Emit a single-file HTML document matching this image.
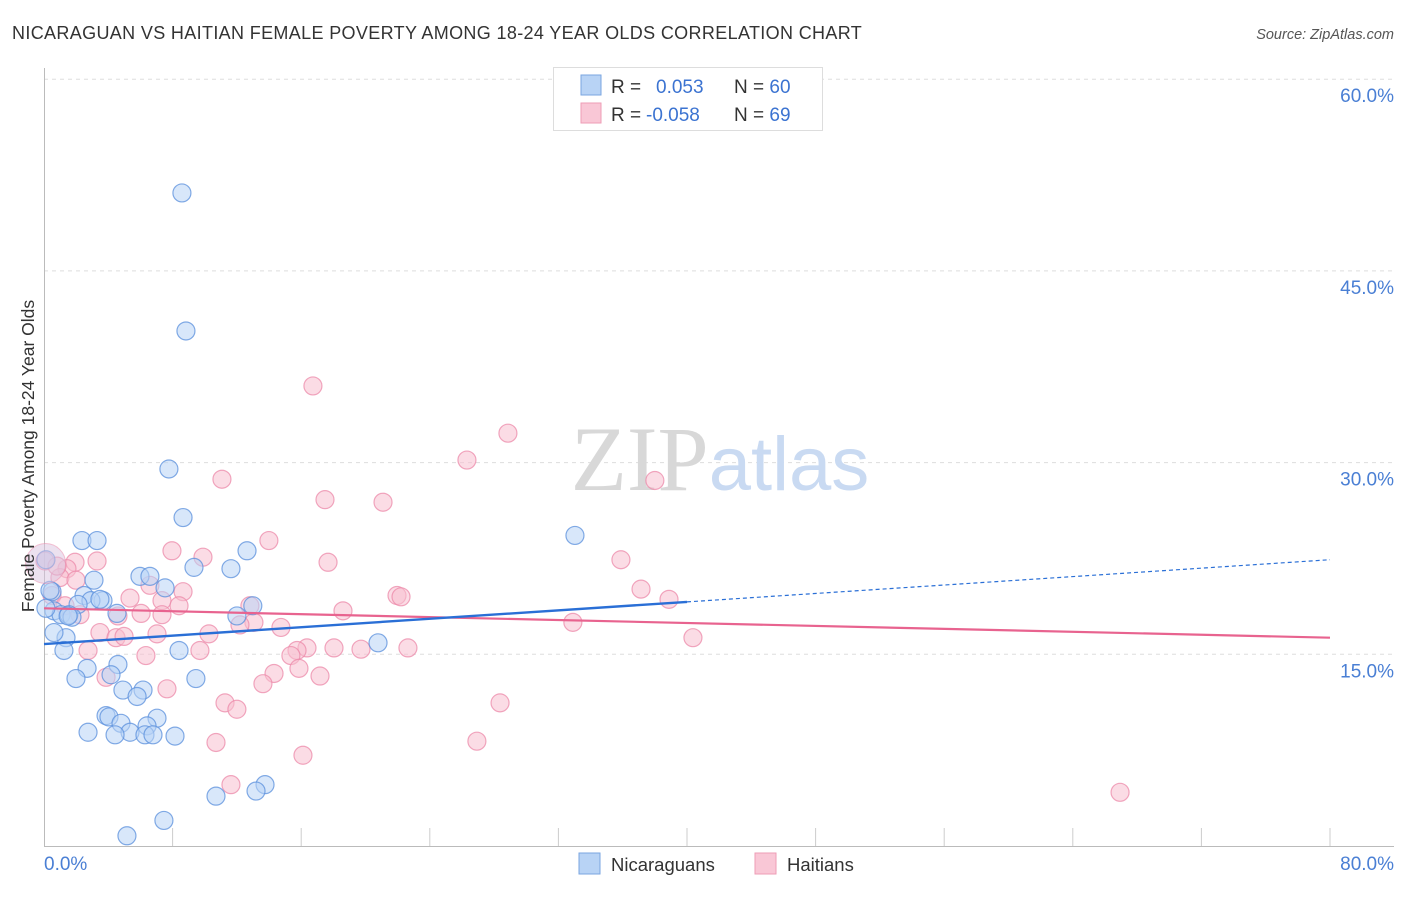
<!DOCTYPE html>
<html><head><meta charset="utf-8"><style>
body{margin:0;background:#fff;font-family:"Liberation Sans",sans-serif}
svg text{font-family:"Liberation Sans",sans-serif}
</style></head><body>
<svg id="c" width="1406" height="892" xmlns="http://www.w3.org/2000/svg">
<text x="12" y="39" font-size="18" letter-spacing="0.35" fill="#333">NICARAGUAN VS HAITIAN FEMALE POVERTY AMONG 18-24 YEAR OLDS CORRELATION CHART</text>
<text x="1394" y="39" font-size="14.5" fill="#555" font-style="italic" text-anchor="end">Source: ZipAtlas.com</text>
<g id="grid"></g>
<text x="720" y="490" font-size="92" text-anchor="middle"><tspan fill="#d8d8d8" font-family="Liberation Serif">ZIP</tspan><tspan fill="#c9daf2" font-size="76">atlas</tspan></text>
<g id="pts"></g>
<g id="lines"></g>
<text transform="translate(34,456) rotate(-90)" font-size="17.5" fill="#333" text-anchor="middle">Female Poverty Among 18-24 Year Olds</text>
<text x="44" y="870" font-size="19" fill="#4a7fd4">0.0%</text>
<text x="1394" y="870" font-size="19" fill="#4a7fd4" text-anchor="end">80.0%</text>
<g>
<rect x="553.5" y="67.5" width="269" height="63" fill="#fff" stroke="#ddd"/>
<rect x="581" y="75" width="20" height="20" fill="#b8d3f5" stroke="#7aa6e0"/>
<rect x="581" y="103" width="20" height="20" fill="#f9c7d6" stroke="#ee9cb6"/>
<text x="611" y="93" font-size="19" fill="#333">R = <tspan fill="#3b73d1" x="656">0.053</tspan><tspan fill="#333" x="734">N = </tspan><tspan fill="#3b73d1">60</tspan></text>
<text x="611" y="121" font-size="19" fill="#333">R = <tspan fill="#3b73d1" x="646">-0.058</tspan><tspan fill="#333" x="734">N = </tspan><tspan fill="#3b73d1">69</tspan></text>
</g>
<g>
<rect x="579" y="853" width="21" height="21" fill="#b8d3f5" stroke="#7aa6e0"/>
<text x="611" y="871" font-size="18.5" fill="#333">Nicaraguans</text>
<rect x="755" y="853" width="21" height="21" fill="#f9c7d6" stroke="#ee9cb6"/>
<text x="787" y="871" font-size="18.5" fill="#333">Haitians</text>
</g>
</svg>
<script>
const yTicks=[15,30,45,60];
const yTickLabels=["15.0%","30.0%","45.0%","60.0%"];
const xTicks=[0,8,16,24,32,40,48,56,64,72,80];
const blueX=[8.58,8.83,7.77,8.65,33.03,2.36,3.3,12.63,11.63,9.33,5.97,6.59,3.11,7.53,0.5,2.49,3.67,2.92,2.12,12.99,12,0.62,1.06,1.55,1.74,4.54,0.12,1.37,0.62,8.4,20.78,1.24,2.68,4.6,4.17,1.99,9.45,4.91,6.16,5.79,3.86,4.04,7.03,4.79,6.41,2.74,5.35,4.42,6.28,6.78,8.15,13.75,13.19,10.7,7.46,5.16,0.12,0.37,3.48,1.5];
const blueY=[51.1,40.3,29.5,25.7,24.3,23.9,23.9,23.1,21.7,21.8,21.1,21.1,20.8,20.2,19.9,19.6,19.2,19.2,18.9,18.8,18,18.4,18.1,18.1,17.9,18.2,18.6,16.3,16.7,15.3,15.9,15.3,13.9,14.2,13.4,13.1,13.1,12.2,12.2,11.7,10.2,10.1,10,9.6,9.4,8.9,8.9,8.7,8.7,8.7,8.6,4.8,4.3,3.9,2,0.8,22.4,20.0,19.3,18];
const pinkX=[16.73,28.86,26.31,38,11.07,17.48,21.09,13.99,7.96,9.89,3.3,1.93,35.89,17.67,0.06,1.43,0.99,37.14,38.88,21.96,22.21,6.59,8.65,5.35,7.34,12.81,2.24,6.04,7.34,8.4,18.6,4.6,13.06,32.9,3.48,4.48,4.98,7.03,10.26,14.74,12.19,40.37,22.64,18.04,19.72,16.36,15.74,15.36,9.7,6.34,2.74,15.86,3.86,14.31,17.17,13.62,7.65,11.26,12,28.37,10.7,26.93,16.11,11.63,66.94,0.5,0.81,1.31,1.99];
const pinkY=[36.0,32.3,30.2,28.6,28.7,27.1,26.9,23.9,23.1,22.6,22.3,22.2,22.4,22.2,22.3,21.7,21,20.1,19.3,19.6,19.5,20.4,19.9,19.4,19.2,18.8,18.1,18.2,18.1,18.8,18.4,18,17.5,17.5,16.7,16.3,16.4,16.6,16.6,17.1,17.3,16.3,15.5,15.5,15.4,15.5,15.3,14.9,15.3,14.9,15.3,13.9,13.2,13.5,13.3,12.7,12.3,11.2,10.7,11.2,8.1,8.2,7.1,4.8,4.2,19.6,21.9,18.8,20.8];
const blueTrend=[[0,15.8],[40,19.1]];
const blueTrendExt=[[40,19.1],[80,22.4]];
const pinkTrend=[[0,18.6],[80,16.3]];
const X=v=>44+v*16.075, Y=v=>846-v*12.78;
const NS="http://www.w3.org/2000/svg";
function mk(t,a,p){const e=document.createElementNS(NS,t);for(const k in a)e.setAttribute(k,a[k]);p.appendChild(e);return e;}
const g=document.getElementById('grid');
yTicks.forEach((t,i)=>{
 const l=mk('line',{x1:44,x2:1394,y1:Y(t),y2:Y(t),stroke:'#ddd','stroke-dasharray':'4,4'},g);
 
 
 const tx=mk('text',{x:1394,y:Y(t)+23,'font-size':19,fill:'#4a7fd4','text-anchor':'end'},g);
 tx.textContent=yTickLabels[i];
 
 
});
const ax=mk('path',{d:`M44.5 68V846.5H1394`,stroke:'#bbb',fill:'none'},g);


xTicks.slice(1).forEach(t=>{
 const l=mk('line',{x1:X(t),x2:X(t),y1:828,y2:846,stroke:'#ccc'},g);
 
 
});
const p=document.getElementById('pts');
function dots(xs,ys,fill,stroke,name){xs.forEach((x,i)=>{
 const c=mk('circle',{cx:X(x),cy:Y(ys[i]),r:9,fill:fill,'fill-opacity':0.55,stroke:stroke,'stroke-opacity':0.75,'stroke-width':1.2},p);
 
 
});}
dots(pinkX,pinkY,'#f7bfd0','#ec8aaa','haitian-point');
dots(blueX,blueY,'#b8d3f5','#5a8fdc','nicaraguan-point');
const big=mk('circle',{cx:X(0.1),cy:Y(22.1),r:20,fill:'#d9c3e0','fill-opacity':0.5,stroke:'#ec8aaa','stroke-opacity':0.5},p);


const L=document.getElementById('lines');
function ln(a,attrs,name){const e=mk('line',Object.assign({x1:X(a[0][0]),y1:Y(a[0][1]),x2:X(a[1][0]),y2:Y(a[1][1])},attrs),L);
 
 }
ln(pinkTrend,{stroke:'#e8638f','stroke-width':2.2},'haitian-trendline');
ln(blueTrend,{stroke:'#2a6fd6','stroke-width':2.4},'nicaraguan-trendline');
ln(blueTrendExt,{stroke:'#2a6fd6','stroke-width':1.2,'stroke-dasharray':'4,3'},'nicaraguan-trendline-extension');
</script>
</body></html>
